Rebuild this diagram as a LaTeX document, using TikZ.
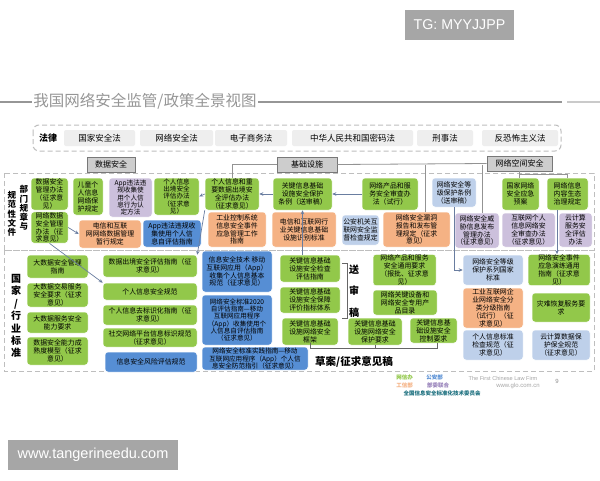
\documentclass[tikz,border=0pt]{standalone}
\usepackage{fontspec}
\setmainfont{Noto Sans CJK SC}
\newfontfamily\latinsans{Liberation Sans}
\XeTeXlinebreaklocale "zh"
\XeTeXlinebreakskip=0pt plus 1pt
\usetikzlibrary{arrows.meta}
\definecolor{cgr}{RGB}{146,200,74}
\definecolor{clav}{RGB}{204,192,220}
\definecolor{clb}{RGB}{190,208,234}
\definecolor{cor}{RGB}{245,178,132}
\definecolor{cbl}{RGB}{86,142,212}
\definecolor{chd}{RGB}{205,205,205}
\definecolor{chdb}{RGB}{120,120,120}
\definecolor{claw}{RGB}{238,238,238}
\definecolor{cdash}{RGB}{190,190,190}
\definecolor{cconn}{RGB}{105,125,160}
\definecolor{cwm}{RGB}{166,166,166}
\definecolor{cttl}{RGB}{150,150,150}
\definecolor{cpur}{RGB}{150,128,185}
\definecolor{cteal}{RGB}{25,110,125}
\newcommand\mybox[7]{%
  \pgfmathsetmacro\mbW{#4-#2}%
  \pgfmathsetmacro\mbH{#5-#3}%
  \pgfmathsetmacro\mbX{(#2+#4)/2}%
  \pgfmathsetmacro\mbY{(#3+#5)/2}%
  \node[#6, minimum width=\mbW pt, minimum height=\mbH pt] (#1) at (\mbX,\mbY) {#7};}
\tikzset{
  box/.style={rounded corners=3pt, draw=white, line width=0.5pt, align=center, inner sep=0.5pt,
    font=\fontsize{6.9}{7.9}\selectfont, text=black},
  gbox/.style={box, fill=cgr},
  lbox/.style={box, fill=clav},
  lbbox/.style={box, fill=clb},
  obox/.style={box, fill=cor},
  bbox/.style={box, fill=cbl},
  tight/.style={font=\fontsize{6.6}{7.3}\selectfont},
  hdr/.style={draw=chdb, line width=0.8pt, fill=chd, align=center, inner sep=0pt, font=\fontsize{8}{9}\selectfont},
  lawbox/.style={fill=claw, rounded corners=2pt, align=center, inner sep=0pt, font=\fontsize{8.5}{9}\selectfont},
  regdash/.style={draw=cdash, line width=1pt, dash pattern=on 5pt off 3pt},
  hline/.style={draw=chdb!80, line width=0.8pt},
  conn/.style={draw=cconn, line width=0.7pt, -{Stealth[length=4pt,width=3.5pt]}},
  brk/.style={draw=black!60, line width=0.7pt},
  vlab/.style={align=center, inner sep=0pt, font=\bfseries\fontsize{8.5}{9.2}\selectfont},
  wm/.style={fill=cwm, text=white, inner sep=0pt, font=\latinsans\fontsize{14.2}{16}\selectfont},
  leg/.style={inner sep=0pt, font=\bfseries\fontsize{5.5}{6}\selectfont},
}
\begin{document}
\begin{tikzpicture}[x=1pt,y=-1pt]
\useasboundingbox (0,0) rectangle (600,480);
\fill[white] (0,0) rectangle (600,480);
% watermarks
\node[wm, minimum width=109pt, minimum height=30pt] (tg) at (459.5,25) {TG: MYYJJPP};
\node[wm, minimum width=170pt, minimum height=30pt, font=\latinsans\fontsize{14.5}{16}\selectfont] (web) at (93,455) {www.tangerineedu.com};
% title
\node[inner sep=0pt, text=cttl, font=\fontsize{15.5}{17}\selectfont] (ttl) at (145,101) {我国网络安全监管/政策全景视图};
\coordinate (tl0) at (0,102); \coordinate (tl1) at (32,102);
\coordinate (tr0) at (258,102); \coordinate (tr1) at (562,102);
\coordinate (tr2) at (567,102); \coordinate (tr3) at (600,102);
\draw[cttl, line width=1.5pt] (tl0) -- (tl1);
\draw[cttl, line width=1.5pt] (tr0) -- (tr1);
\draw[cttl!50, line width=1.5pt] (tr2) -- (tr3);
% law row
\draw[regdash, rounded corners=6pt] (33,125) rectangle (561,151);
\node[inner sep=0pt, font=\bfseries\fontsize{9}{10}\selectfont] (fl) at (48,138) {法律};
\mybox{lw1}{64}{130}{135}{146}{lawbox}{国家安全法}
\mybox{lw2}{140}{130}{213}{146}{lawbox}{网络安全法}
\mybox{lw3}{215}{130}{287}{146}{lawbox}{电子商务法}
\mybox{lw4}{292}{130}{413}{146}{lawbox}{中华人民共和国密码法}
\mybox{lw5}{417}{130}{473}{146}{lawbox}{刑事法}
\mybox{lw6}{482}{130}{558}{146}{lawbox}{反恐怖主义法}
% regions
\draw[regdash] (4,173) rectangle (594,250);
\draw[regdash] (4,250) rectangle (594,371);
% headers
\mybox{hsj}{87}{157}{135}{172}{hdr}{数据安全}
\mybox{hjc}{277}{157}{337}{172}{hdr}{基础设施}
\mybox{hkj}{487}{156}{552}{171}{hdr}{网络空间安全}
% side labels
\node[vlab] (lab1) at (24,208) {部\\门\\规\\章\\与};
\node[vlab] (lab2) at (12,214) {规\\范\\性\\文\\件};
\node[vlab, font=\bfseries\fontsize{10}{12.4}\selectfont] (lab3) at (16,316) {国\\家\\/\\行\\业\\标\\准};
% ---- top region boxes
\mybox{dsgl}{31}{178}{68}{210}{gbox}{数据安全\\管理办法\\（征求意\\见）}
\mybox{wlsj}{31}{212}{68}{243}{gbox}{网络数据\\安全管理\\办法（征\\求意见）}
\mybox{etgr}{73}{178}{103}{215}{gbox}{儿童个\\人信息\\网络保\\护规定}
\mybox{appwf}{109}{178}{152}{217}{lbox,tight}{App违法违\\规收集使\\用个人信\\息行为认\\定方法}
\mybox{grxxcj}{154}{178}{199}{215}{gbox,tight}{个人信息\\出境安全\\评估办法\\（征求意\\见）}
\mybox{dxsj}{79}{220}{141}{248}{obox}{电信和互联\\网网络数据管理\\暂行规定}
\mybox{appzpg}{143}{220}{201}{247}{bbox}{App违法违规收\\集使用个人信\\息自评估指南}
\mybox{grzy}{205}{178}{259}{210}{gbox}{个人信息和重\\要数据出境安\\全评估办法\\（征求意见）}
\mybox{gjxx}{273}{178}{332}{210}{gbox}{关键信息基础\\设施安全保护\\条例（送审稿）}
\mybox{wlcp}{362}{178}{418}{210}{gbox}{网络产品和服\\务安全审查办\\法（试行）}
\mybox{gkzz}{208}{212}{266}{247}{obox}{工业控制系统\\信息安全事件\\应急管理工作\\指南}
\mybox{dxhy}{272}{212}{336}{247}{obox}{电信和互联网行\\业关键信息基础\\设施识别标准}
\mybox{gaj}{342}{215}{379}{245}{lbbox}{公安机关互\\联网安全监\\督检查规定}
\mybox{ldbg}{383}{212}{450}{247}{obox}{网络安全漏洞\\报告和发布管\\理规定（征求\\意见）}
\mybox{djbh}{432}{178}{476}{207}{lbbox}{网络安全等\\级保护条例\\（送审稿）}
\mybox{yjya}{502}{178}{539}{210}{gbox}{国家网络\\安全应急\\预案}
\mybox{nrst}{547}{178}{588}{210}{gbox}{网络信息\\内容生态\\治理规定}
\mybox{wx}{455}{213}{499}{248}{lbox}{网络安全威\\胁信息发布\\管理办法\\（征求意见）}
\mybox{hlwgr}{502}{213}{555}{247}{lbox}{互联网个人\\信息网络安\\全审查办法\\（征求意见）}
\mybox{yjs}{559}{213}{592}{247}{lbox}{云计算\\服务安\\全评估\\办法}
% ---- bottom region boxes
\mybox{dsjgl}{27}{255}{88}{278}{gbox}{大数据安全管理\\指南}
\mybox{dsjjy}{27}{283}{88}{307}{gbox}{大数据交易服务\\安全要求（征求\\意见）}
\mybox{dsjfw}{27}{312}{88}{333}{gbox}{大数据服务安全\\能力要求}
\mybox{sjnl}{27}{337}{88}{365}{gbox}{数据安全能力成\\熟度模型（征求\\意见）}
\mybox{sjcj}{103}{255}{197}{277}{gbox}{数据出境安全评估指南（征\\求意见）}
\mybox{grgf}{103}{283}{197}{300}{gbox}{个人信息安全规范}
\mybox{qbsh}{103}{305}{197}{325}{gbox}{个人信息去标识化指南（征\\求意见）}
\mybox{sjwl}{103}{328}{197}{347}{gbox}{社交网络平台信息标识规范\\（征求意见）}
\mybox{fxpg}{105}{352}{197}{372}{bbox}{信息安全风险评估规范}
\mybox{appjb}{202}{251}{272}{292}{bbox}{信息安全技术\ 移动\\互联网应用（App）\\收集个人信息基本\\规范（征求意见）}
\mybox{appzp}{202}{295}{272}{345}{bbox,tight}{网络安全标准2020\\自评估指南—移动\\互联网应用程序\\（App）收集使用个\\人信息自评估指南\\（征求意见）}
\mybox{appff}{202}{347}{308}{370}{bbox,tight}{网络安全标准实践指南—移动\\互联网应用程序（App）个人信\\息安全防范指引（征求意见）}
\mybox{jcpg}{280}{255}{340}{282}{gbox}{关键信息基础\\设施安全检查\\评估指南}
\mybox{bzpj}{280}{287}{340}{313}{gbox}{关键信息基础\\设施安全保障\\评价指标体系}
\mybox{kj}{282}{318}{338}{345}{gbox}{关键信息基础\\设施网络安全\\框架}
\mybox{bhyq}{348}{318}{402}{345}{gbox}{关键信息基础\\设施网络安全\\保护要求}
\mybox{kzyq}{410}{318}{457}{343}{gbox}{关键信息基\\础设施安全\\控制要求}
\mybox{typq}{373}{255}{436}{285}{gbox}{网络产品和服务\\安全通用要求\\（报批、征求意\\见）}
\mybox{gjsb}{373}{290}{437}{315}{gbox}{网络关键设备和\\网络安全专用产\\品目录}
\mybox{djbz}{463}{255}{523}{285}{lbbox}{网络安全等级\\保护系列国家\\标准}
\mybox{gyhlw}{463}{288}{523}{328}{obox}{工业互联网企\\业网络安全分\\类分级指南\\（试行）（征\\求意见）}
\mybox{grjc}{463}{330}{523}{360}{lbbox}{个人信息标准\\检查规范（征\\求意见）}
\mybox{yjyl}{528}{255}{590}{285}{gbox}{网络安全事件\\应急演练通用\\指南（征求意\\见）}
\mybox{zn}{532}{293}{590}{322}{gbox}{灾难恢复服务要\\求}
\mybox{yjsbq}{532}{330}{590}{360}{lbbox}{云计算数据保\\护保全规范\\（征求意见）}
% brackets and labels
\coordinate (s1) at (342,263); \coordinate (s2) at (347,263);
\coordinate (s3) at (347,318); \coordinate (s4) at (342,318);
\draw[brk] (s1) -- (s2) -- (s3) -- (s4);
\node[vlab, font=\bfseries\fontsize{10}{21.5}\selectfont] (ssg) at (354,291) {送\\审\\稿};
\coordinate (c1) at (310,343); \coordinate (c2) at (310,348);
\coordinate (c3) at (437,348); \coordinate (c4) at (437,343);
\coordinate (c5) at (375,345); \coordinate (c6) at (375,348);
\draw[brk] (c1) -- (c2) -- (c3) -- (c4);
\draw[brk] (c5) -- (c6);
\node[inner sep=0pt, font=\bfseries\fontsize{10.5}{12}\selectfont] (cag) at (354,362) {草案/征求意见稿};
% connectors from headers
\draw[hline] (hjc.west) -| (grzy.north);
\draw[hline] (hjc.east) -- (hkj.west);
\coordinate (j425) at (425,164.5);
\draw[hline] (j425) -- (j425 |- ldbg.north);
\coordinate (j482) at (482,164.5);
\draw[hline] (j482) -- (j482 |- wx.north);
\coordinate (k1) at (519.5,174); \coordinate (k2) at (567.5,174);
\draw[hline] (hkj.south) -- (hkj.south |- k1) -- (k1) -- (k2) -- (nrst.north);
\draw[hline] (k1) -- (yjya.north -| k1);
% arrows
\draw[conn] (djbh.south) |- (djbz.west);
\coordinate (a557) at (557,0);
\draw[conn] (nrst.south -| a557) -- (yjyl.north -| a557);
\draw[conn] (gjxx.west) -- (grzy.east);
\draw[conn] (wlcp.west) -- (gjxx.east);
\draw[conn] (grzy.west) -- (grxxcj.east);
\draw[conn] (gjxx.south |- jcpg.north) -- (gjxx.south);
\draw[conn] (wlsj.east) -- (dxsj.west);
\draw[conn] (wlsj.south) -- (grgf.north west);
\draw[conn] (grzy.south west) -- (sjcj.north east);
% legend
\node[leg, text=cgr] (lg1) at (404.5,377) {网信办};
\node[leg, text=cbl] (lg2) at (434.5,377) {公安部};
\node[leg, text=cor] (lg3) at (404.5,385) {工信部};
\node[leg, text=cpur] (lg4) at (438,385) {部委联合};
\node[leg, text=cteal] (lg5) at (442,393) {全国信息安全标准化技术委员会};
\node[inner sep=0pt, text=black!35, font=\latinsans\fontsize{5.6}{6}\selectfont] (lf1) at (503,378) {The First Chinese Law Firm};
\node[inner sep=0pt, text=black!35, font=\latinsans\fontsize{6}{7}\selectfont] (lf2) at (518,386) {www.glo.com.cn};
\node[inner sep=0pt, text=black!45, font=\latinsans\fontsize{6}{7}\selectfont] (pg) at (557,381) {9};
\end{tikzpicture}
\end{document}
